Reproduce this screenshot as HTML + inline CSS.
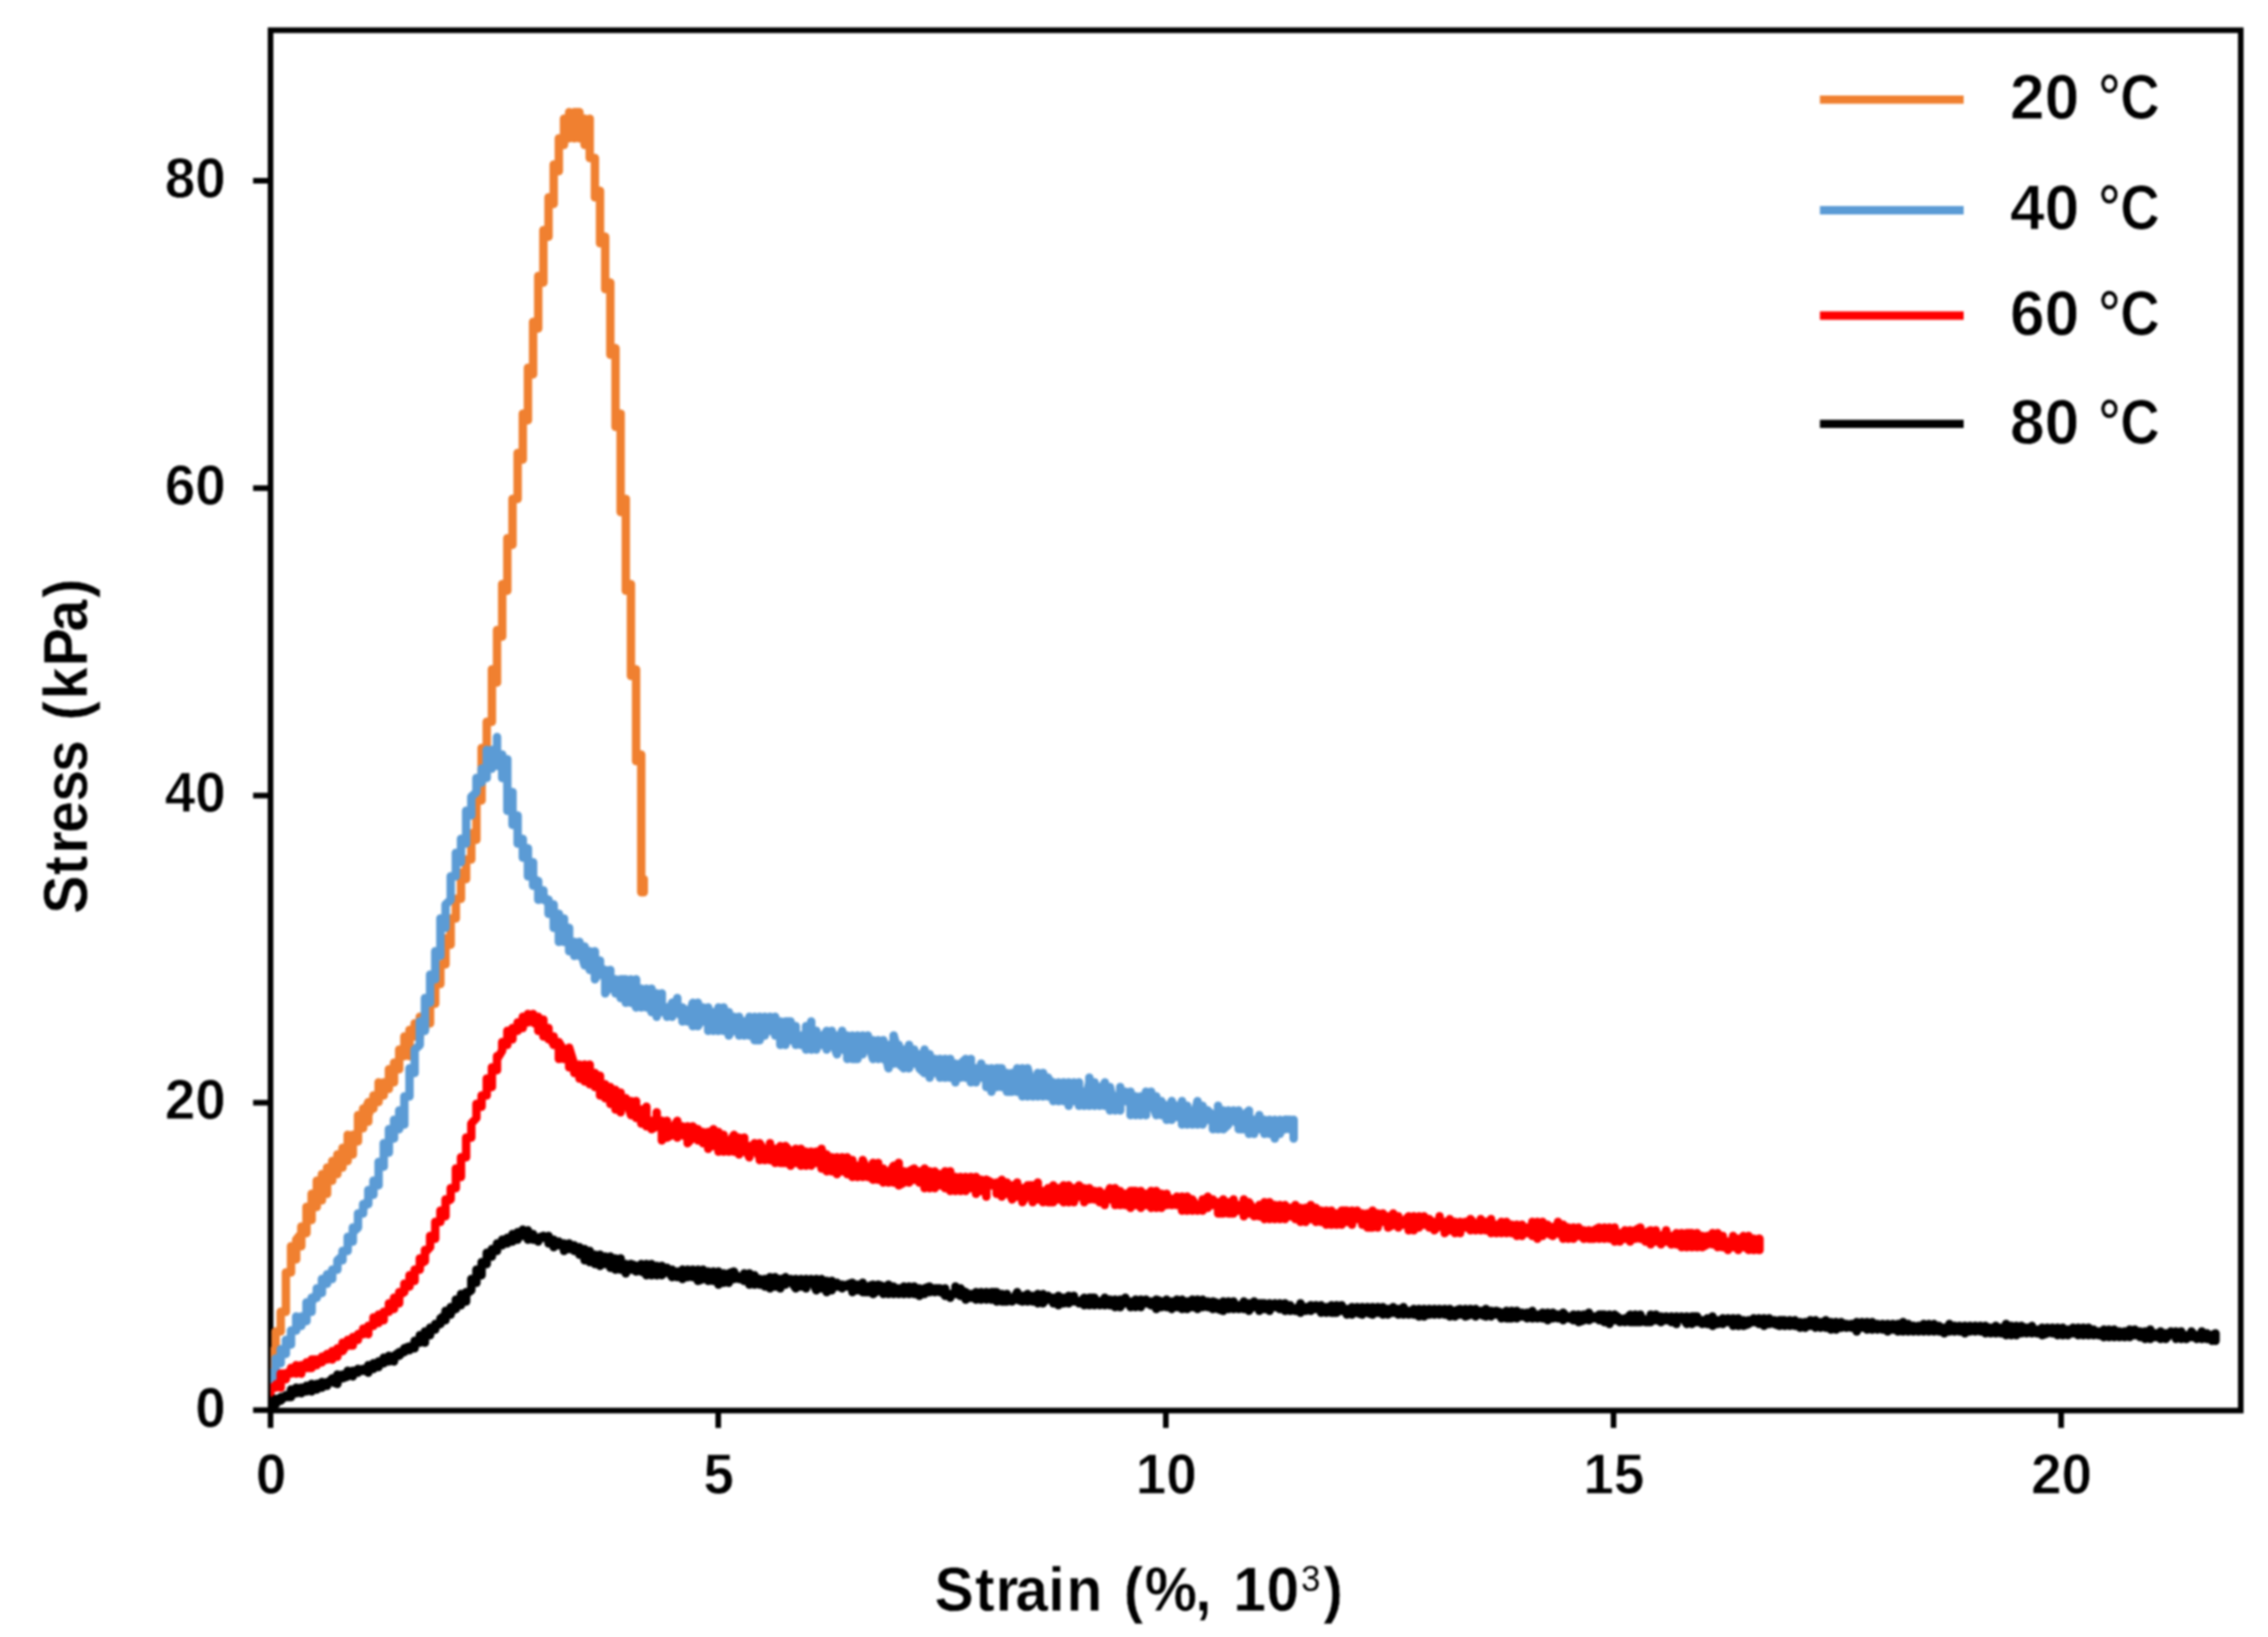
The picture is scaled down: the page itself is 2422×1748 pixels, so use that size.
<!DOCTYPE html>
<html lang="en"><head><meta charset="utf-8"><title>Stress-strain curves</title>
<style>html,body{margin:0;padding:0;background:#fff}svg{display:block}</style></head>
<body>
<svg width="2422" height="1748" viewBox="0 0 2422 1748">
<rect x="0" y="0" width="2422" height="1748" fill="#fff"/>
<filter id="soft" color-interpolation-filters="sRGB" x="0" y="0" width="100%" height="100%" filterUnits="userSpaceOnUse"><feGaussianBlur stdDeviation="0.9"/></filter>
<g filter="url(#soft)">
<rect x="0" y="0" width="2422" height="1748" fill="#fff"/>
<rect x="288.9" y="32.3" width="2104.0" height="1473.9" fill="none" stroke="#000" stroke-width="6"/>
<path d="M270.3 1505.8H288.9M270.3 1177.6H288.9M270.3 849.4H288.9M270.3 521.2H288.9M270.3 193.0H288.9M288.9 1506.2V1524.8M767.0 1506.2V1524.8M1245.0 1506.2V1524.8M1723.1 1506.2V1524.8M2201.1 1506.2V1524.8" stroke="#000" stroke-width="6" fill="none"/>
<clipPath id="plot"><rect x="288.9" y="32.3" width="2104.0" height="1476.9"/></clipPath>
<g clip-path="url(#plot)" fill="none" stroke-linejoin="round" stroke-linecap="round">
<path d="M288.8 1477.8L288.8 1484.8L288.8 1442.8L294.3 1449.8L294.3 1421.8L294.3 1421.8L299.8 1421.8L299.8 1400.8L299.8 1400.8L305.3 1400.8L305.3 1358.8L310.8 1358.8L310.8 1330.8L310.8 1330.8L316.3 1344.8L316.3 1323.8L316.3 1323.8L321.8 1316.8L321.8 1330.8L321.8 1309.8L321.8 1309.8L327.3 1316.8L327.3 1288.8L327.3 1288.8L332.8 1288.8L332.8 1302.8L332.8 1274.8L332.8 1288.8L338.3 1288.8L338.3 1260.8L338.3 1281.8L343.8 1281.8L343.8 1253.8L343.8 1253.8L349.3 1274.8L349.3 1246.8L349.3 1253.8L354.8 1253.8L354.8 1260.8L354.8 1239.8L354.8 1253.8L360.3 1239.8L360.3 1253.8L360.3 1232.8L360.3 1246.8L365.8 1246.8L365.8 1225.8L365.8 1239.8L371.3 1239.8L371.3 1211.8L376.8 1232.8L376.8 1211.8L376.8 1211.8L382.3 1211.8L382.3 1218.8L382.3 1190.8L382.3 1190.8L387.8 1197.8L387.8 1204.8L387.8 1183.8L387.8 1190.8L393.3 1176.8L393.3 1197.8L393.3 1190.8L398.8 1176.8L398.8 1169.8L398.8 1183.8L398.8 1176.8L404.3 1176.8L404.3 1155.8L404.3 1162.8L409.8 1169.8L409.8 1155.8L409.8 1162.8L415.3 1155.8L415.3 1162.8L415.3 1141.8L415.3 1141.8L420.8 1141.8L420.8 1155.8L420.8 1134.8L426.3 1134.8L426.3 1141.8L426.3 1120.8L426.3 1120.8L431.8 1127.8L431.8 1106.8L431.8 1120.8L437.3 1127.8L437.3 1099.8L437.3 1099.8L442.8 1106.8L442.8 1092.8L442.8 1106.8L448.3 1106.8L448.3 1085.8L448.3 1099.8L453.8 1099.8L453.8 1085.8L453.8 1092.8L459.3 1085.8L459.3 1092.8L459.3 1071.8L459.3 1071.8L464.8 1071.8L464.8 1050.8L464.8 1050.8L470.3 1050.8L470.3 1029.8L470.3 1029.8L475.8 1029.8L475.8 1001.8L481.3 1008.8L481.3 980.8L481.3 980.8L486.8 980.8L486.8 959.8L486.8 959.8L492.3 959.8L492.3 931.8L492.3 931.8L497.8 938.8L497.8 917.8L497.8 917.8L503.3 917.8L503.3 889.8L503.3 889.8L508.8 896.8L508.8 847.8L514.3 854.8L514.3 798.8L519.8 798.8L519.8 770.8L519.8 770.8L525.3 770.8L525.3 714.8L530.8 728.8L530.8 672.8L536.3 679.8L536.3 623.8L541.8 630.8L541.8 574.8L547.3 581.8L547.3 532.8L547.3 532.8L552.8 532.8L552.8 483.8L558.3 490.8L558.3 441.8L563.8 448.8L563.8 392.8L569.3 399.8L569.3 343.8L574.8 350.8L574.8 294.8L580.3 301.8L580.3 245.8L585.8 252.8L585.8 210.8L585.8 210.8L591.3 217.8L591.3 175.8L591.3 182.8L596.8 182.8L596.8 147.8L596.8 154.8L602.3 154.8L602.3 126.8L602.3 140.8L607.8 147.8L607.8 120.5L607.8 119.8L607.8 133.8L613.3 133.8L613.3 147.8L613.3 119.8L613.3 119.8L618.8 119.8L618.8 147.8L618.8 133.8L624.3 140.8L624.3 154.8L624.3 126.8L624.3 147.8L629.8 126.8L629.8 168.8L629.8 168.8L635.3 168.8L635.3 210.8L640.8 203.8L640.8 259.8L646.3 252.8L646.3 308.8L651.8 301.8L651.8 378.8L657.3 371.8L657.3 455.8L662.8 441.8L662.8 546.8L668.3 532.8L668.3 630.8L673.8 623.8L673.8 721.8L679.3 714.8L679.3 812.8L684.8 805.8L684.8 952.8L687.5 938.8L687.5 952.8L687.5 952.8" stroke="#F08030" stroke-width="9.0"/>
<path d="M288.8 1470.8L288.8 1480.8L288.8 1465.8L294.3 1470.8L294.3 1450.8L299.8 1450.8L299.8 1455.8L299.8 1440.8L305.3 1445.8L305.3 1430.8L305.3 1430.8L310.8 1435.8L310.8 1420.8L310.8 1420.8L316.3 1420.8L316.3 1405.8L316.3 1415.8L321.8 1410.8L321.8 1415.8L321.8 1405.8L321.8 1405.8L327.3 1410.8L327.3 1390.8L332.8 1395.8L332.8 1400.8L332.8 1385.8L332.8 1390.8L338.3 1380.8L338.3 1385.8L338.3 1375.8L338.3 1375.8L343.8 1380.8L343.8 1365.8L343.8 1365.8L349.3 1365.8L349.3 1370.8L349.3 1360.8L349.3 1365.8L354.8 1365.8L354.8 1355.8L354.8 1355.8L360.3 1355.8L360.3 1345.8L360.3 1345.8L365.8 1340.8L365.8 1345.8L365.8 1335.8L365.8 1335.8L371.3 1335.8L371.3 1320.8L371.3 1320.8L376.8 1320.8L376.8 1325.8L376.8 1310.8L376.8 1315.8L382.3 1310.8L382.3 1295.8L382.3 1295.8L387.8 1295.8L387.8 1285.8L387.8 1290.8L393.3 1280.8L393.3 1285.8L393.3 1270.8L398.8 1270.8L398.8 1275.8L398.8 1260.8L398.8 1260.8L404.3 1265.8L404.3 1240.8L409.8 1245.8L409.8 1220.8L415.3 1225.8L415.3 1230.8L415.3 1205.8L415.3 1210.8L420.8 1215.8L420.8 1195.8L426.3 1205.8L426.3 1185.8L431.8 1200.8L431.8 1170.8L437.3 1170.8L437.3 1140.8L442.8 1145.8L442.8 1120.8L448.3 1115.8L448.3 1090.8L453.8 1100.8L453.8 1065.8L459.3 1070.8L459.3 1040.8L459.3 1040.8L464.8 1045.8L464.8 1015.8L470.3 1020.8L470.3 980.8L475.8 990.8L475.8 965.8L481.3 960.8L481.3 935.8L486.8 935.8L486.8 910.8L492.3 920.8L492.3 895.8L492.3 895.8L497.8 900.8L497.8 865.8L503.3 870.8L503.3 850.8L503.3 850.8L508.8 845.8L508.8 830.8L508.8 830.8L514.3 835.8L514.3 820.8L514.3 825.8L519.8 830.8L519.8 800.8L519.8 820.8L525.3 805.8L525.3 800.8L525.3 820.8L525.3 815.8L530.8 805.8L530.8 787.0L530.8 815.8L530.8 800.8L530.8 815.8L536.3 820.8L536.3 805.8L536.3 830.8L541.8 810.8L541.8 865.8L547.3 845.8L547.3 880.8L552.8 870.8L552.8 900.8L558.3 895.8L558.3 915.8L558.3 910.8L563.8 905.8L563.8 935.8L563.8 935.8L569.3 930.8L569.3 920.8L569.3 945.8L569.3 935.8L574.8 945.8L574.8 940.8L574.8 960.8L574.8 960.8L580.3 955.8L580.3 960.8L580.3 950.8L580.3 955.8L585.8 965.8L585.8 960.8L585.8 975.8L591.3 965.8L591.3 990.8L596.8 975.8L596.8 1005.8L602.3 980.8L602.3 1005.8L602.3 995.8L607.8 990.8L607.8 1015.8L607.8 1015.8L613.3 1010.8L613.3 1005.8L613.3 1020.8L613.3 1005.8L618.8 1015.8L618.8 1005.8L618.8 1020.8L618.8 1010.8L624.3 1030.8L624.3 1010.8L624.3 1010.8L629.8 1035.8L629.8 1015.8L629.8 1020.8L635.3 1015.8L635.3 1045.8L640.8 1035.8L640.8 1040.8L640.8 1025.8L640.8 1030.8L646.3 1045.8L646.3 1035.8L646.3 1060.8L651.8 1050.8L651.8 1035.8L651.8 1055.8L651.8 1050.8L657.3 1055.8L657.3 1060.8L657.3 1045.8L657.3 1055.8L662.8 1060.8L662.8 1065.8L662.8 1045.8L668.3 1045.8L668.3 1070.8L668.3 1070.8L673.8 1045.8L673.8 1070.8L673.8 1055.8L679.3 1075.8L679.3 1045.8L679.3 1070.8L684.8 1070.8L684.8 1075.8L684.8 1055.8L684.8 1065.8L690.3 1055.8L690.3 1075.8L690.3 1060.8L695.8 1080.8L695.8 1055.8L695.8 1080.8L701.3 1075.8L701.3 1060.8L701.3 1085.8L701.3 1065.8L706.8 1070.8L706.8 1060.8L706.8 1080.8L706.8 1075.8L712.3 1075.8L712.3 1085.8L712.3 1085.8L717.8 1070.8L717.8 1085.8L717.8 1070.8L723.3 1070.8L723.3 1065.8L723.3 1080.8L723.3 1080.8L728.8 1085.8L728.8 1090.8L728.8 1075.8L734.3 1080.8L734.3 1090.8L734.3 1090.8L739.8 1070.8L739.8 1095.8L739.8 1085.8L745.3 1085.8L745.3 1070.8L745.3 1095.8L745.3 1095.8L750.8 1085.8L750.8 1075.8L750.8 1090.8L756.3 1090.8L756.3 1100.8L756.3 1075.8L756.3 1095.8L761.8 1095.8L761.8 1100.8L761.8 1080.8L761.8 1095.8L767.3 1100.8L767.3 1075.8L767.3 1100.8L772.8 1090.8L772.8 1075.8L772.8 1100.8L778.3 1080.8L778.3 1105.8L778.3 1105.8L783.8 1095.8L783.8 1100.8L783.8 1085.8L789.3 1100.8L789.3 1105.8L789.3 1085.8L789.3 1105.8L794.8 1090.8L794.8 1105.8L794.8 1090.8L800.3 1090.8L800.3 1085.8L800.3 1105.8L805.8 1085.8L805.8 1110.8L805.8 1110.8L811.3 1110.8L811.3 1085.8L811.3 1100.8L816.8 1095.8L816.8 1105.8L816.8 1085.8L822.3 1095.8L822.3 1100.8L822.3 1085.8L822.3 1100.8L827.8 1095.8L827.8 1085.8L827.8 1105.8L833.3 1105.8L833.3 1090.8L833.3 1115.8L833.3 1110.8L838.8 1095.8L838.8 1115.8L838.8 1090.8L838.8 1090.8L844.3 1090.8L844.3 1110.8L844.3 1110.8L849.8 1110.8L849.8 1095.8L849.8 1115.8L849.8 1105.8L855.3 1115.8L855.3 1105.8L855.3 1115.8L860.8 1105.8L860.8 1095.8L860.8 1120.8L860.8 1115.8L866.3 1105.8L866.3 1120.8L866.3 1090.8L866.3 1120.8L871.8 1115.8L871.8 1100.8L871.8 1120.8L871.8 1115.8L877.3 1105.8L877.3 1115.8L877.3 1110.8L882.8 1100.8L882.8 1120.8L882.8 1105.8L888.3 1110.8L888.3 1100.8L888.3 1115.8L888.3 1110.8L893.8 1125.8L893.8 1105.8L893.8 1110.8L899.3 1105.8L899.3 1100.8L899.3 1120.8L899.3 1110.8L904.8 1125.8L904.8 1105.8L904.8 1130.8L910.3 1105.8L910.3 1130.8L915.8 1130.8L915.8 1105.8L915.8 1105.8L921.3 1110.8L921.3 1125.8L921.3 1105.8L921.3 1110.8L926.8 1120.8L926.8 1105.8L926.8 1110.8L932.3 1130.8L932.3 1110.8L932.3 1120.8L937.8 1130.8L937.8 1110.8L937.8 1110.8L943.3 1130.8L943.3 1110.8L943.3 1115.8L948.8 1140.8L948.8 1115.8L954.3 1135.8L954.3 1105.8L959.8 1125.8L959.8 1115.8L959.8 1135.8L959.8 1135.8L965.3 1140.8L965.3 1120.8L965.3 1135.8L970.8 1140.8L970.8 1115.8L970.8 1120.8L976.3 1135.8L976.3 1120.8L976.3 1135.8L981.8 1135.8L981.8 1125.8L981.8 1140.8L987.3 1145.8L987.3 1120.8L987.3 1125.8L992.8 1130.8L992.8 1125.8L992.8 1150.8L992.8 1130.8L998.3 1135.8L998.3 1130.8L998.3 1145.8L1003.8 1135.8L1003.8 1130.8L1003.8 1150.8L1009.3 1140.8L1009.3 1130.8L1009.3 1150.8L1009.3 1135.8L1014.8 1140.8L1014.8 1130.8L1014.8 1150.8L1014.8 1140.8L1020.3 1135.8L1020.3 1155.8L1020.3 1140.8L1025.8 1135.8L1025.8 1150.8L1025.8 1135.8L1031.3 1130.8L1031.3 1150.8L1031.3 1145.8L1036.8 1130.8L1036.8 1155.8L1036.8 1140.8L1042.3 1140.8L1042.3 1155.8L1042.3 1150.8L1047.8 1150.8L1047.8 1135.8L1047.8 1145.8L1053.3 1150.8L1053.3 1140.8L1053.3 1160.8L1053.3 1145.8L1058.8 1160.8L1058.8 1140.8L1058.8 1165.8L1058.8 1160.8L1064.3 1140.8L1064.3 1160.8L1064.3 1140.8L1069.8 1140.8L1069.8 1160.8L1069.8 1150.8L1075.3 1145.8L1075.3 1165.8L1080.8 1165.8L1080.8 1145.8L1086.3 1165.8L1086.3 1140.8L1091.8 1150.8L1091.8 1170.8L1091.8 1140.8L1097.3 1145.8L1097.3 1170.8L1097.3 1140.8L1102.8 1160.8L1102.8 1150.8L1102.8 1170.8L1108.3 1165.8L1108.3 1170.8L1108.3 1145.8L1108.3 1155.8L1113.8 1160.8L1113.8 1170.8L1113.8 1145.8L1119.3 1165.8L1119.3 1170.8L1119.3 1150.8L1124.8 1160.8L1124.8 1155.8L1124.8 1175.8L1124.8 1175.8L1130.3 1155.8L1130.3 1175.8L1135.8 1170.8L1135.8 1155.8L1135.8 1175.8L1135.8 1155.8L1141.3 1175.8L1141.3 1155.8L1141.3 1180.8L1141.3 1175.8L1146.8 1155.8L1146.8 1175.8L1152.3 1170.8L1152.3 1155.8L1152.3 1180.8L1152.3 1165.8L1157.8 1165.8L1157.8 1180.8L1157.8 1180.8L1163.3 1155.8L1163.3 1180.8L1163.3 1150.8L1163.3 1170.8L1168.8 1180.8L1168.8 1155.8L1174.3 1175.8L1174.3 1160.8L1174.3 1180.8L1174.3 1175.8L1179.8 1155.8L1179.8 1180.8L1179.8 1175.8L1185.3 1175.8L1185.3 1185.8L1185.3 1160.8L1190.8 1185.8L1190.8 1170.8L1190.8 1180.8L1196.3 1165.8L1196.3 1185.8L1196.3 1160.8L1196.3 1170.8L1201.8 1175.8L1201.8 1165.8L1201.8 1165.8L1207.3 1180.8L1207.3 1165.8L1207.3 1190.8L1207.3 1170.8L1212.8 1170.8L1212.8 1190.8L1212.8 1185.8L1218.3 1190.8L1218.3 1170.8L1218.3 1175.8L1223.8 1190.8L1223.8 1165.8L1229.3 1180.8L1229.3 1165.8L1229.3 1175.8L1234.8 1190.8L1234.8 1170.8L1234.8 1190.8L1240.3 1180.8L1240.3 1190.8L1240.3 1175.8L1240.3 1175.8L1245.8 1185.8L1245.8 1195.8L1245.8 1180.8L1245.8 1190.8L1251.3 1175.8L1251.3 1195.8L1251.3 1175.8L1256.8 1190.8L1256.8 1180.8L1256.8 1190.8L1262.3 1195.8L1262.3 1175.8L1262.3 1200.8L1262.3 1190.8L1267.8 1195.8L1267.8 1200.8L1267.8 1180.8L1267.8 1190.8L1273.3 1190.8L1273.3 1185.8L1273.3 1200.8L1278.8 1175.8L1278.8 1200.8L1278.8 1185.8L1284.3 1180.8L1284.3 1200.8L1289.8 1185.8L1289.8 1195.8L1289.8 1185.8L1295.3 1190.8L1295.3 1205.8L1295.3 1190.8L1300.8 1195.8L1300.8 1180.8L1300.8 1205.8L1300.8 1185.8L1306.3 1190.8L1306.3 1185.8L1306.3 1205.8L1306.3 1205.8L1311.8 1200.8L1311.8 1185.8L1311.8 1190.8L1317.3 1195.8L1317.3 1185.8L1317.3 1195.8L1322.8 1200.8L1322.8 1185.8L1322.8 1205.8L1328.3 1205.8L1328.3 1190.8L1328.3 1190.8L1333.8 1185.8L1333.8 1210.8L1333.8 1195.8L1339.3 1195.8L1339.3 1210.8L1339.3 1195.8L1344.8 1195.8L1344.8 1205.8L1344.8 1190.8L1344.8 1200.8L1350.3 1195.8L1350.3 1210.8L1350.3 1195.8L1355.8 1200.8L1355.8 1210.8L1355.8 1195.8L1355.8 1205.8L1361.3 1195.8L1361.3 1215.8L1366.8 1195.8L1366.8 1210.8L1366.8 1210.8L1372.3 1195.8L1372.3 1205.8L1372.3 1195.8L1377.8 1195.8L1377.8 1205.8L1377.8 1200.8L1381.5 1210.8L1381.5 1215.8L1381.5 1195.8L1381.5 1195.8" stroke="#5B9BD5" stroke-width="9.0"/>
<path d="M288.8 1484.8L288.8 1490.8L288.8 1481.8L294.3 1481.8L294.3 1478.8L294.3 1478.8L299.8 1475.8L299.8 1481.8L299.8 1466.8L305.3 1466.8L305.3 1472.8L305.3 1466.8L310.8 1463.8L310.8 1466.8L310.8 1460.8L310.8 1463.8L316.3 1460.8L316.3 1466.8L316.3 1457.8L321.8 1466.8L321.8 1457.8L321.8 1457.8L327.3 1460.8L327.3 1454.8L327.3 1460.8L332.8 1460.8L332.8 1451.8L332.8 1451.8L338.3 1451.8L338.3 1457.8L338.3 1451.8L343.8 1454.8L343.8 1448.8L343.8 1451.8L349.3 1445.8L349.3 1451.8L349.3 1448.8L354.8 1448.8L354.8 1451.8L354.8 1442.8L354.8 1442.8L360.3 1448.8L360.3 1439.8L360.3 1439.8L365.8 1442.8L365.8 1433.8L365.8 1442.8L371.3 1433.8L371.3 1436.8L371.3 1430.8L371.3 1436.8L376.8 1436.8L376.8 1427.8L376.8 1427.8L382.3 1427.8L382.3 1424.8L382.3 1430.8L382.3 1424.8L387.8 1421.8L387.8 1418.8L387.8 1424.8L387.8 1418.8L393.3 1424.8L393.3 1415.8L393.3 1415.8L398.8 1415.8L398.8 1406.8L404.3 1412.8L404.3 1403.8L409.8 1403.8L409.8 1409.8L409.8 1400.8L415.3 1400.8L415.3 1391.8L415.3 1394.8L420.8 1397.8L420.8 1385.8L420.8 1385.8L426.3 1391.8L426.3 1379.8L426.3 1382.8L431.8 1379.8L431.8 1370.8L437.3 1373.8L437.3 1361.8L442.8 1361.8L442.8 1367.8L442.8 1355.8L442.8 1358.8L448.3 1352.8L448.3 1355.8L448.3 1343.8L448.3 1349.8L453.8 1346.8L453.8 1334.8L453.8 1337.8L459.3 1331.8L459.3 1319.8L459.3 1322.8L464.8 1322.8L464.8 1304.8L470.3 1304.8L470.3 1292.8L475.8 1298.8L475.8 1280.8L475.8 1283.8L481.3 1280.8L481.3 1268.8L481.3 1268.8L486.8 1268.8L486.8 1247.8L492.3 1256.8L492.3 1235.8L497.8 1235.8L497.8 1214.8L503.3 1214.8L503.3 1199.8L503.3 1199.8L508.8 1193.8L508.8 1178.8L514.3 1178.8L514.3 1181.8L514.3 1169.8L519.8 1169.8L519.8 1151.8L519.8 1157.8L525.3 1160.8L525.3 1139.8L530.8 1142.8L530.8 1127.8L530.8 1130.8L536.3 1121.8L536.3 1112.8L536.3 1115.8L541.8 1112.8L541.8 1115.8L541.8 1100.8L541.8 1100.8L547.3 1109.8L547.3 1097.8L547.3 1097.8L552.8 1100.8L552.8 1091.8L552.8 1091.8L558.3 1094.8L558.3 1097.8L558.3 1085.8L558.3 1091.8L563.8 1085.8L563.8 1082.8L563.8 1091.8L563.8 1085.8L569.3 1085.8L569.3 1084.0L569.3 1082.8L569.3 1091.8L569.3 1091.8L574.8 1094.8L574.8 1085.8L574.8 1100.8L574.8 1094.8L580.3 1094.8L580.3 1088.8L580.3 1106.8L580.3 1097.8L585.8 1106.8L585.8 1097.8L585.8 1109.8L585.8 1103.8L591.3 1115.8L591.3 1106.8L591.3 1112.8L596.8 1115.8L596.8 1112.8L596.8 1130.8L596.8 1112.8L602.3 1121.8L602.3 1130.8L602.3 1127.8L607.8 1130.8L607.8 1139.8L607.8 1118.8L613.3 1136.8L613.3 1145.8L613.3 1139.8L618.8 1136.8L618.8 1151.8L618.8 1151.8L624.3 1151.8L624.3 1136.8L624.3 1154.8L624.3 1139.8L629.8 1136.8L629.8 1157.8L629.8 1148.8L635.3 1154.8L635.3 1160.8L635.3 1145.8L640.8 1151.8L640.8 1148.8L640.8 1169.8L640.8 1160.8L646.3 1157.8L646.3 1172.8L646.3 1166.8L651.8 1160.8L651.8 1178.8L651.8 1169.8L657.3 1163.8L657.3 1184.8L657.3 1172.8L662.8 1181.8L662.8 1187.8L662.8 1166.8L662.8 1175.8L668.3 1175.8L668.3 1172.8L668.3 1181.8L668.3 1172.8L673.8 1190.8L673.8 1175.8L679.3 1181.8L679.3 1175.8L679.3 1193.8L679.3 1181.8L684.8 1196.8L684.8 1184.8L684.8 1199.8L684.8 1196.8L690.3 1184.8L690.3 1181.8L690.3 1202.8L695.8 1196.8L695.8 1205.8L701.3 1202.8L701.3 1187.8L701.3 1202.8L706.8 1202.8L706.8 1196.8L706.8 1217.8L706.8 1208.8L712.3 1196.8L712.3 1214.8L717.8 1211.8L717.8 1202.8L717.8 1205.8L723.3 1196.8L723.3 1214.8L723.3 1202.8L728.8 1202.8L728.8 1211.8L734.3 1214.8L734.3 1202.8L734.3 1220.8L734.3 1220.8L739.8 1214.8L739.8 1202.8L739.8 1202.8L745.3 1208.8L745.3 1205.8L745.3 1217.8L745.3 1211.8L750.8 1208.8L750.8 1220.8L750.8 1220.8L756.3 1217.8L756.3 1226.8L756.3 1208.8L756.3 1220.8L761.8 1205.8L761.8 1223.8L761.8 1214.8L767.3 1226.8L767.3 1208.8L767.3 1229.8L767.3 1220.8L772.8 1211.8L772.8 1229.8L778.3 1217.8L778.3 1229.8L778.3 1220.8L783.8 1211.8L783.8 1229.8L783.8 1226.8L789.3 1214.8L789.3 1232.8L789.3 1229.8L794.8 1217.8L794.8 1229.8L794.8 1214.8L794.8 1223.8L800.3 1235.8L800.3 1223.8L800.3 1226.8L805.8 1226.8L805.8 1229.8L805.8 1220.8L805.8 1226.8L811.3 1235.8L811.3 1238.8L811.3 1220.8L816.8 1229.8L816.8 1226.8L816.8 1238.8L816.8 1232.8L822.3 1229.8L822.3 1220.8L822.3 1238.8L822.3 1226.8L827.8 1226.8L827.8 1241.8L827.8 1235.8L833.3 1223.8L833.3 1241.8L833.3 1241.8L838.8 1241.8L838.8 1223.8L844.3 1229.8L844.3 1244.8L844.3 1229.8L849.8 1229.8L849.8 1241.8L849.8 1226.8L849.8 1238.8L855.3 1229.8L855.3 1244.8L855.3 1226.8L855.3 1232.8L860.8 1229.8L860.8 1244.8L860.8 1238.8L866.3 1244.8L866.3 1229.8L866.3 1229.8L871.8 1241.8L871.8 1229.8L871.8 1229.8L877.3 1235.8L877.3 1247.8L877.3 1226.8L882.8 1250.8L882.8 1232.8L882.8 1235.8L888.3 1250.8L888.3 1235.8L888.3 1238.8L893.8 1241.8L893.8 1235.8L893.8 1253.8L893.8 1250.8L899.3 1247.8L899.3 1250.8L899.3 1235.8L899.3 1238.8L904.8 1235.8L904.8 1253.8L904.8 1247.8L910.3 1247.8L910.3 1238.8L910.3 1256.8L910.3 1241.8L915.8 1256.8L915.8 1244.8L915.8 1256.8L921.3 1253.8L921.3 1238.8L921.3 1256.8L921.3 1238.8L926.8 1250.8L926.8 1256.8L926.8 1253.8L932.3 1259.8L932.3 1241.8L932.3 1256.8L937.8 1241.8L937.8 1259.8L937.8 1256.8L943.3 1247.8L943.3 1262.8L943.3 1262.8L948.8 1256.8L948.8 1250.8L948.8 1262.8L948.8 1253.8L954.3 1244.8L954.3 1262.8L954.3 1253.8L959.8 1253.8L959.8 1241.8L959.8 1265.8L965.3 1262.8L965.3 1250.8L965.3 1253.8L970.8 1256.8L970.8 1262.8L970.8 1250.8L970.8 1250.8L976.3 1247.8L976.3 1259.8L976.3 1250.8L981.8 1250.8L981.8 1262.8L981.8 1262.8L987.3 1247.8L987.3 1268.8L987.3 1250.8L992.8 1268.8L992.8 1250.8L992.8 1259.8L998.3 1250.8L998.3 1268.8L998.3 1259.8L1003.8 1262.8L1003.8 1265.8L1003.8 1253.8L1003.8 1259.8L1009.3 1268.8L1009.3 1250.8L1009.3 1268.8L1014.8 1253.8L1014.8 1250.8L1014.8 1271.8L1020.3 1256.8L1020.3 1271.8L1020.3 1259.8L1025.8 1256.8L1025.8 1271.8L1025.8 1265.8L1031.3 1265.8L1031.3 1271.8L1031.3 1256.8L1031.3 1256.8L1036.8 1268.8L1036.8 1256.8L1036.8 1259.8L1042.3 1262.8L1042.3 1256.8L1042.3 1274.8L1042.3 1268.8L1047.8 1271.8L1047.8 1259.8L1047.8 1271.8L1053.3 1259.8L1053.3 1277.8L1053.3 1259.8L1058.8 1262.8L1058.8 1265.8L1064.3 1262.8L1064.3 1274.8L1064.3 1268.8L1069.8 1259.8L1069.8 1277.8L1069.8 1262.8L1075.3 1265.8L1075.3 1262.8L1075.3 1274.8L1075.3 1265.8L1080.8 1280.8L1080.8 1265.8L1080.8 1268.8L1086.3 1277.8L1086.3 1262.8L1086.3 1265.8L1091.8 1271.8L1091.8 1268.8L1091.8 1283.8L1097.3 1274.8L1097.3 1265.8L1097.3 1265.8L1102.8 1265.8L1102.8 1283.8L1108.3 1271.8L1108.3 1280.8L1108.3 1262.8L1108.3 1280.8L1113.8 1274.8L1113.8 1271.8L1113.8 1283.8L1113.8 1280.8L1119.3 1271.8L1119.3 1268.8L1119.3 1283.8L1124.8 1283.8L1124.8 1265.8L1124.8 1277.8L1130.3 1277.8L1130.3 1280.8L1130.3 1268.8L1130.3 1274.8L1135.8 1283.8L1135.8 1265.8L1135.8 1271.8L1141.3 1283.8L1141.3 1265.8L1146.8 1280.8L1146.8 1268.8L1146.8 1283.8L1152.3 1265.8L1152.3 1277.8L1157.8 1268.8L1157.8 1283.8L1157.8 1280.8L1163.3 1280.8L1163.3 1268.8L1163.3 1274.8L1168.8 1277.8L1168.8 1280.8L1168.8 1271.8L1168.8 1280.8L1174.3 1277.8L1174.3 1283.8L1174.3 1271.8L1174.3 1271.8L1179.8 1280.8L1179.8 1286.8L1179.8 1274.8L1179.8 1280.8L1185.3 1268.8L1185.3 1280.8L1185.3 1277.8L1190.8 1283.8L1190.8 1286.8L1190.8 1268.8L1190.8 1271.8L1196.3 1283.8L1196.3 1286.8L1196.3 1271.8L1201.8 1283.8L1201.8 1286.8L1201.8 1274.8L1201.8 1277.8L1207.3 1283.8L1207.3 1289.8L1207.3 1271.8L1212.8 1271.8L1212.8 1286.8L1212.8 1277.8L1218.3 1274.8L1218.3 1289.8L1218.3 1271.8L1218.3 1271.8L1223.8 1286.8L1223.8 1274.8L1229.3 1289.8L1229.3 1271.8L1229.3 1286.8L1234.8 1286.8L1234.8 1271.8L1234.8 1289.8L1240.3 1277.8L1240.3 1289.8L1240.3 1274.8L1240.3 1289.8L1245.8 1274.8L1245.8 1286.8L1245.8 1277.8L1251.3 1280.8L1251.3 1286.8L1251.3 1283.8L1256.8 1283.8L1256.8 1277.8L1256.8 1286.8L1256.8 1286.8L1262.3 1280.8L1262.3 1292.8L1262.3 1277.8L1262.3 1289.8L1267.8 1292.8L1267.8 1277.8L1267.8 1277.8L1273.3 1283.8L1273.3 1292.8L1273.3 1280.8L1278.8 1289.8L1278.8 1286.8L1278.8 1292.8L1278.8 1289.8L1284.3 1283.8L1284.3 1280.8L1284.3 1292.8L1284.3 1286.8L1289.8 1277.8L1289.8 1289.8L1289.8 1286.8L1295.3 1286.8L1295.3 1280.8L1295.3 1280.8L1300.8 1289.8L1300.8 1283.8L1300.8 1295.8L1306.3 1295.8L1306.3 1280.8L1306.3 1295.8L1311.8 1292.8L1311.8 1283.8L1311.8 1295.8L1311.8 1295.8L1317.3 1295.8L1317.3 1280.8L1317.3 1286.8L1322.8 1289.8L1322.8 1286.8L1322.8 1292.8L1328.3 1289.8L1328.3 1280.8L1328.3 1298.8L1328.3 1283.8L1333.8 1286.8L1333.8 1295.8L1333.8 1283.8L1339.3 1292.8L1339.3 1298.8L1339.3 1298.8L1344.8 1286.8L1344.8 1298.8L1344.8 1286.8L1350.3 1301.8L1350.3 1283.8L1350.3 1292.8L1355.8 1286.8L1355.8 1301.8L1355.8 1283.8L1355.8 1298.8L1361.3 1295.8L1361.3 1286.8L1361.3 1301.8L1361.3 1292.8L1366.8 1295.8L1366.8 1286.8L1366.8 1301.8L1366.8 1292.8L1372.3 1286.8L1372.3 1301.8L1372.3 1289.8L1377.8 1289.8L1377.8 1298.8L1377.8 1292.8L1383.3 1292.8L1383.3 1286.8L1383.3 1301.8L1388.8 1289.8L1388.8 1304.8L1388.8 1295.8L1394.3 1304.8L1394.3 1289.8L1394.3 1298.8L1399.8 1301.8L1399.8 1286.8L1399.8 1301.8L1405.3 1289.8L1405.3 1304.8L1405.3 1292.8L1410.8 1295.8L1410.8 1292.8L1410.8 1304.8L1410.8 1292.8L1416.3 1301.8L1416.3 1292.8L1416.3 1307.8L1421.8 1298.8L1421.8 1292.8L1421.8 1307.8L1421.8 1301.8L1427.3 1295.8L1427.3 1307.8L1427.3 1301.8L1432.8 1301.8L1432.8 1307.8L1432.8 1292.8L1438.3 1292.8L1438.3 1304.8L1438.3 1295.8L1443.8 1304.8L1443.8 1307.8L1443.8 1292.8L1449.3 1298.8L1449.3 1301.8L1449.3 1292.8L1449.3 1298.8L1454.8 1304.8L1454.8 1307.8L1454.8 1295.8L1454.8 1298.8L1460.3 1298.8L1460.3 1295.8L1460.3 1310.8L1460.3 1310.8L1465.8 1310.8L1465.8 1292.8L1465.8 1304.8L1471.3 1304.8L1471.3 1310.8L1471.3 1295.8L1471.3 1301.8L1476.8 1301.8L1476.8 1304.8L1476.8 1295.8L1476.8 1301.8L1482.3 1298.8L1482.3 1310.8L1482.3 1310.8L1487.8 1307.8L1487.8 1295.8L1487.8 1301.8L1493.3 1307.8L1493.3 1310.8L1493.3 1298.8L1493.3 1304.8L1498.8 1307.8L1498.8 1304.8L1498.8 1304.8L1504.3 1298.8L1504.3 1313.8L1504.3 1310.8L1509.8 1310.8L1509.8 1313.8L1509.8 1298.8L1509.8 1313.8L1515.3 1298.8L1515.3 1310.8L1515.3 1301.8L1520.8 1298.8L1520.8 1307.8L1520.8 1301.8L1526.3 1301.8L1526.3 1310.8L1526.3 1301.8L1531.8 1307.8L1531.8 1304.8L1531.8 1313.8L1537.3 1307.8L1537.3 1298.8L1537.3 1304.8L1542.8 1313.8L1542.8 1304.8L1542.8 1316.8L1548.3 1310.8L1548.3 1313.8L1548.3 1301.8L1548.3 1301.8L1553.8 1313.8L1553.8 1304.8L1553.8 1316.8L1559.3 1307.8L1559.3 1316.8L1559.3 1304.8L1564.8 1307.8L1564.8 1304.8L1564.8 1310.8L1564.8 1307.8L1570.3 1304.8L1570.3 1313.8L1570.3 1301.8L1575.8 1307.8L1575.8 1313.8L1575.8 1310.8L1581.3 1304.8L1581.3 1313.8L1581.3 1301.8L1586.8 1310.8L1586.8 1304.8L1586.8 1313.8L1586.8 1313.8L1592.3 1307.8L1592.3 1301.8L1592.3 1316.8L1592.3 1307.8L1597.8 1316.8L1597.8 1307.8L1597.8 1316.8L1603.3 1307.8L1603.3 1304.8L1603.3 1316.8L1603.3 1310.8L1608.8 1313.8L1608.8 1316.8L1608.8 1304.8L1608.8 1307.8L1614.3 1316.8L1614.3 1307.8L1619.8 1316.8L1619.8 1319.8L1619.8 1307.8L1619.8 1316.8L1625.3 1313.8L1625.3 1319.8L1625.3 1307.8L1625.3 1316.8L1630.8 1316.8L1630.8 1310.8L1636.3 1310.8L1636.3 1304.8L1636.3 1319.8L1636.3 1316.8L1641.8 1310.8L1641.8 1322.8L1641.8 1304.8L1641.8 1313.8L1647.3 1307.8L1647.3 1304.8L1647.3 1319.8L1652.8 1307.8L1652.8 1316.8L1652.8 1316.8L1658.3 1319.8L1658.3 1310.8L1658.3 1310.8L1663.8 1307.8L1663.8 1304.8L1663.8 1316.8L1669.3 1319.8L1669.3 1322.8L1669.3 1307.8L1674.8 1313.8L1674.8 1322.8L1674.8 1310.8L1674.8 1313.8L1680.3 1313.8L1680.3 1310.8L1680.3 1322.8L1685.8 1313.8L1685.8 1310.8L1685.8 1319.8L1685.8 1313.8L1691.3 1322.8L1691.3 1313.8L1691.3 1319.8L1696.8 1322.8L1696.8 1313.8L1696.8 1322.8L1702.3 1322.8L1702.3 1313.8L1702.3 1313.8L1707.8 1310.8L1707.8 1322.8L1707.8 1316.8L1713.3 1310.8L1713.3 1322.8L1713.3 1313.8L1718.8 1310.8L1718.8 1322.8L1724.3 1313.8L1724.3 1310.8L1724.3 1325.8L1724.3 1319.8L1729.8 1322.8L1729.8 1316.8L1729.8 1325.8L1729.8 1322.8L1735.3 1322.8L1735.3 1313.8L1735.3 1313.8L1740.8 1319.8L1740.8 1325.8L1740.8 1313.8L1740.8 1322.8L1746.3 1313.8L1746.3 1322.8L1746.3 1313.8L1751.8 1310.8L1751.8 1322.8L1751.8 1316.8L1757.3 1325.8L1757.3 1316.8L1757.3 1316.8L1762.8 1313.8L1762.8 1328.8L1762.8 1316.8L1768.3 1325.8L1768.3 1313.8L1768.3 1325.8L1773.8 1325.8L1773.8 1328.8L1773.8 1319.8L1779.3 1316.8L1779.3 1325.8L1779.3 1313.8L1779.3 1319.8L1784.8 1328.8L1784.8 1319.8L1784.8 1319.8L1790.3 1328.8L1790.3 1316.8L1790.3 1316.8L1795.8 1325.8L1795.8 1331.8L1795.8 1316.8L1795.8 1316.8L1801.3 1331.8L1801.3 1316.8L1801.3 1316.8L1806.8 1316.8L1806.8 1331.8L1806.8 1319.8L1812.3 1319.8L1812.3 1331.8L1812.3 1316.8L1812.3 1319.8L1817.8 1331.8L1817.8 1319.8L1817.8 1331.8L1823.3 1328.8L1823.3 1319.8L1823.3 1325.8L1828.8 1328.8L1828.8 1316.8L1828.8 1328.8L1834.3 1322.8L1834.3 1316.8L1834.3 1331.8L1839.8 1322.8L1839.8 1331.8L1839.8 1319.8L1839.8 1325.8L1845.3 1325.8L1845.3 1334.8L1845.3 1328.8L1850.8 1328.8L1850.8 1319.8L1850.8 1331.8L1850.8 1319.8L1856.3 1331.8L1856.3 1334.8L1856.3 1322.8L1856.3 1331.8L1861.8 1319.8L1861.8 1331.8L1861.8 1328.8L1867.3 1334.8L1867.3 1319.8L1867.3 1331.8L1872.8 1328.8L1872.8 1322.8L1872.8 1334.8L1878.3 1331.8L1878.3 1334.8L1878.3 1322.8L1878.3 1328.8L1879.0 1334.8L1879.0 1322.8L1879.0 1325.8" stroke="#FF0000" stroke-width="9.0"/>
<path d="M288.8 1495.8L288.8 1497.8L288.8 1497.8L294.3 1499.8L294.3 1493.8L294.3 1499.8L299.8 1491.8L299.8 1495.8L299.8 1495.8L305.3 1489.8L305.3 1491.8L305.3 1491.8L310.8 1491.8L310.8 1483.8L310.8 1483.8L316.3 1487.8L316.3 1481.8L321.8 1483.8L321.8 1487.8L321.8 1481.8L321.8 1485.8L327.3 1483.8L327.3 1485.8L327.3 1479.8L327.3 1483.8L332.8 1485.8L332.8 1477.8L332.8 1481.8L338.3 1477.8L338.3 1483.8L338.3 1479.8L343.8 1475.8L343.8 1481.8L343.8 1475.8L349.3 1479.8L349.3 1475.8L349.3 1477.8L354.8 1471.8L354.8 1475.8L354.8 1475.8L360.3 1477.8L360.3 1467.8L360.3 1473.8L365.8 1469.8L365.8 1467.8L365.8 1471.8L365.8 1471.8L371.3 1469.8L371.3 1463.8L376.8 1469.8L376.8 1463.8L382.3 1465.8L382.3 1461.8L382.3 1461.8L387.8 1463.8L387.8 1461.8L387.8 1463.8L393.3 1459.8L393.3 1465.8L393.3 1457.8L393.3 1459.8L398.8 1461.8L398.8 1455.8L404.3 1455.8L404.3 1453.8L404.3 1459.8L404.3 1457.8L409.8 1451.8L409.8 1455.8L409.8 1449.8L409.8 1453.8L415.3 1453.8L415.3 1447.8L415.3 1451.8L420.8 1453.8L420.8 1447.8L420.8 1447.8L426.3 1443.8L426.3 1447.8L426.3 1447.8L431.8 1441.8L431.8 1439.8L431.8 1443.8L431.8 1439.8L437.3 1437.8L437.3 1441.8L437.3 1439.8L442.8 1439.8L442.8 1431.8L442.8 1431.8L448.3 1431.8L448.3 1433.8L448.3 1425.8L453.8 1433.8L453.8 1421.8L459.3 1423.8L459.3 1425.8L459.3 1417.8L459.3 1419.8L464.8 1419.8L464.8 1413.8L464.8 1415.8L470.3 1413.8L470.3 1407.8L475.8 1403.8L475.8 1409.8L475.8 1399.8L475.8 1401.8L481.3 1399.8L481.3 1403.8L481.3 1395.8L481.3 1399.8L486.8 1397.8L486.8 1387.8L492.3 1387.8L492.3 1393.8L492.3 1381.8L492.3 1385.8L497.8 1389.8L497.8 1379.8L497.8 1381.8L503.3 1377.8L503.3 1365.8L508.8 1369.8L508.8 1355.8L514.3 1361.8L514.3 1347.8L519.8 1349.8L519.8 1337.8L525.3 1337.8L525.3 1341.8L525.3 1333.8L525.3 1337.8L530.8 1333.8L530.8 1335.8L530.8 1327.8L536.3 1329.8L536.3 1323.8L541.8 1323.8L541.8 1321.8L541.8 1327.8L541.8 1323.8L547.3 1319.8L547.3 1325.8L547.3 1317.8L547.3 1323.8L552.8 1323.8L552.8 1315.8L558.3 1315.8L558.3 1313.0L558.3 1319.8L558.3 1317.8L563.8 1313.8L563.8 1323.8L563.8 1315.8L569.3 1319.8L569.3 1323.8L569.3 1317.8L569.3 1319.8L574.8 1323.8L574.8 1325.8L574.8 1321.8L580.3 1319.8L580.3 1321.8L580.3 1319.8L585.8 1321.8L585.8 1327.8L585.8 1319.8L585.8 1321.8L591.3 1327.8L591.3 1323.8L591.3 1331.8L591.3 1327.8L596.8 1329.8L596.8 1325.8L596.8 1325.8L602.3 1331.8L602.3 1335.8L602.3 1327.8L602.3 1327.8L607.8 1331.8L607.8 1333.8L607.8 1327.8L607.8 1331.8L613.3 1331.8L613.3 1335.8L613.3 1329.8L613.3 1329.8L618.8 1337.8L618.8 1339.8L618.8 1331.8L618.8 1333.8L624.3 1337.8L624.3 1333.8L624.3 1345.8L629.8 1343.8L629.8 1335.8L629.8 1347.8L629.8 1347.8L635.3 1339.8L635.3 1349.8L635.3 1343.8L640.8 1341.8L640.8 1339.8L640.8 1351.8L640.8 1347.8L646.3 1347.8L646.3 1349.8L646.3 1341.8L646.3 1343.8L651.8 1349.8L651.8 1341.8L651.8 1353.8L651.8 1345.8L657.3 1343.8L657.3 1355.8L657.3 1347.8L662.8 1345.8L662.8 1343.8L662.8 1355.8L668.3 1355.8L668.3 1349.8L668.3 1359.8L668.3 1351.8L673.8 1349.8L673.8 1355.8L673.8 1349.8L679.3 1351.8L679.3 1357.8L679.3 1353.8L684.8 1355.8L684.8 1357.8L684.8 1349.8L684.8 1357.8L690.3 1359.8L690.3 1349.8L690.3 1361.8L690.3 1353.8L695.8 1357.8L695.8 1361.8L695.8 1349.8L701.3 1359.8L701.3 1351.8L701.3 1361.8L701.3 1361.8L706.8 1357.8L706.8 1351.8L706.8 1361.8L712.3 1355.8L712.3 1353.8L712.3 1355.8L717.8 1363.8L717.8 1355.8L717.8 1363.8L723.3 1357.8L723.3 1363.8L723.3 1363.8L728.8 1355.8L728.8 1365.8L728.8 1355.8L734.3 1361.8L734.3 1363.8L734.3 1355.8L739.8 1357.8L739.8 1355.8L739.8 1363.8L739.8 1361.8L745.3 1355.8L745.3 1367.8L750.8 1365.8L750.8 1355.8L750.8 1363.8L756.3 1357.8L756.3 1367.8L756.3 1367.8L761.8 1365.8L761.8 1357.8L761.8 1367.8L761.8 1363.8L767.3 1365.8L767.3 1371.8L767.3 1357.8L772.8 1367.8L772.8 1369.8L772.8 1359.8L772.8 1367.8L778.3 1369.8L778.3 1359.8L783.8 1357.8L783.8 1365.8L783.8 1359.8L789.3 1363.8L789.3 1365.8L789.3 1363.8L794.8 1367.8L794.8 1359.8L794.8 1361.8L800.3 1361.8L800.3 1359.8L800.3 1371.8L800.3 1367.8L805.8 1361.8L805.8 1371.8L805.8 1367.8L811.3 1365.8L811.3 1371.8L811.3 1365.8L816.8 1367.8L816.8 1365.8L816.8 1373.8L816.8 1371.8L822.3 1373.8L822.3 1363.8L822.3 1375.8L822.3 1369.8L827.8 1369.8L827.8 1373.8L827.8 1363.8L827.8 1363.8L833.3 1373.8L833.3 1375.8L833.3 1365.8L833.3 1367.8L838.8 1363.8L838.8 1371.8L838.8 1367.8L844.3 1367.8L844.3 1365.8L844.3 1367.8L849.8 1375.8L849.8 1365.8L849.8 1371.8L855.3 1365.8L855.3 1373.8L855.3 1371.8L860.8 1369.8L860.8 1365.8L860.8 1375.8L860.8 1371.8L866.3 1367.8L866.3 1369.8L866.3 1365.8L866.3 1365.8L871.8 1377.8L871.8 1365.8L871.8 1371.8L877.3 1365.8L877.3 1375.8L877.3 1373.8L882.8 1373.8L882.8 1379.8L882.8 1367.8L882.8 1377.8L888.3 1373.8L888.3 1377.8L888.3 1367.8L888.3 1375.8L893.8 1369.8L893.8 1373.8L893.8 1369.8L899.3 1375.8L899.3 1371.8L899.3 1371.8L904.8 1373.8L904.8 1371.8L904.8 1371.8L910.3 1369.8L910.3 1379.8L910.3 1371.8L915.8 1373.8L915.8 1377.8L915.8 1371.8L915.8 1377.8L921.3 1375.8L921.3 1369.8L921.3 1379.8L926.8 1379.8L926.8 1373.8L932.3 1371.8L932.3 1381.8L937.8 1377.8L937.8 1371.8L937.8 1371.8L943.3 1373.8L943.3 1381.8L943.3 1379.8L948.8 1375.8L948.8 1381.8L948.8 1371.8L948.8 1375.8L954.3 1373.8L954.3 1381.8L954.3 1379.8L959.8 1377.8L959.8 1375.8L959.8 1381.8L959.8 1377.8L965.3 1381.8L965.3 1373.8L965.3 1381.8L970.8 1379.8L970.8 1381.8L970.8 1373.8L970.8 1373.8L976.3 1375.8L976.3 1373.8L976.3 1381.8L976.3 1381.8L981.8 1381.8L981.8 1375.8L981.8 1383.8L981.8 1381.8L987.3 1381.8L987.3 1375.8L992.8 1373.8L992.8 1379.8L998.3 1377.8L998.3 1379.8L998.3 1375.8L998.3 1375.8L1003.8 1375.8L1003.8 1379.8L1003.8 1375.8L1009.3 1383.8L1009.3 1375.8L1009.3 1381.8L1014.8 1381.8L1014.8 1385.8L1014.8 1381.8L1020.3 1381.8L1020.3 1373.8L1020.3 1379.8L1025.8 1383.8L1025.8 1375.8L1025.8 1377.8L1031.3 1379.8L1031.3 1387.8L1031.3 1383.8L1036.8 1385.8L1036.8 1381.8L1036.8 1385.8L1042.3 1383.8L1042.3 1387.8L1042.3 1379.8L1042.3 1383.8L1047.8 1387.8L1047.8 1379.8L1047.8 1381.8L1053.3 1387.8L1053.3 1379.8L1053.3 1383.8L1058.8 1387.8L1058.8 1379.8L1058.8 1379.8L1064.3 1379.8L1064.3 1389.8L1064.3 1389.8L1069.8 1385.8L1069.8 1389.8L1069.8 1381.8L1069.8 1389.8L1075.3 1389.8L1075.3 1381.8L1075.3 1387.8L1080.8 1387.8L1080.8 1385.8L1080.8 1389.8L1086.3 1379.8L1086.3 1387.8L1086.3 1387.8L1091.8 1389.8L1091.8 1383.8L1091.8 1385.8L1097.3 1381.8L1097.3 1389.8L1097.3 1383.8L1102.8 1387.8L1102.8 1389.8L1102.8 1383.8L1102.8 1383.8L1108.3 1391.8L1108.3 1381.8L1108.3 1389.8L1113.8 1381.8L1113.8 1391.8L1113.8 1391.8L1119.3 1383.8L1119.3 1387.8L1119.3 1383.8L1124.8 1389.8L1124.8 1391.8L1124.8 1385.8L1124.8 1389.8L1130.3 1389.8L1130.3 1393.8L1130.3 1383.8L1130.3 1387.8L1135.8 1387.8L1135.8 1391.8L1135.8 1385.8L1135.8 1391.8L1141.3 1389.8L1141.3 1391.8L1141.3 1383.8L1146.8 1389.8L1146.8 1383.8L1146.8 1387.8L1152.3 1389.8L1152.3 1391.8L1152.3 1391.8L1157.8 1385.8L1157.8 1393.8L1157.8 1393.8L1163.3 1391.8L1163.3 1385.8L1163.3 1393.8L1163.3 1385.8L1168.8 1385.8L1168.8 1393.8L1168.8 1387.8L1174.3 1393.8L1174.3 1389.8L1174.3 1389.8L1179.8 1387.8L1179.8 1393.8L1179.8 1385.8L1179.8 1391.8L1185.3 1389.8L1185.3 1387.8L1185.3 1393.8L1185.3 1393.8L1190.8 1391.8L1190.8 1395.8L1190.8 1387.8L1190.8 1391.8L1196.3 1395.8L1196.3 1387.8L1196.3 1395.8L1201.8 1387.8L1201.8 1391.8L1201.8 1385.8L1201.8 1391.8L1207.3 1389.8L1207.3 1395.8L1207.3 1395.8L1212.8 1393.8L1212.8 1387.8L1212.8 1395.8L1212.8 1395.8L1218.3 1389.8L1218.3 1387.8L1218.3 1395.8L1218.3 1391.8L1223.8 1391.8L1223.8 1387.8L1223.8 1389.8L1229.3 1393.8L1229.3 1389.8L1229.3 1391.8L1234.8 1389.8L1234.8 1397.8L1234.8 1387.8L1234.8 1387.8L1240.3 1389.8L1240.3 1395.8L1240.3 1391.8L1245.8 1391.8L1245.8 1395.8L1245.8 1387.8L1245.8 1387.8L1251.3 1397.8L1251.3 1389.8L1251.3 1393.8L1256.8 1395.8L1256.8 1387.8L1256.8 1393.8L1262.3 1387.8L1262.3 1397.8L1262.3 1391.8L1267.8 1391.8L1267.8 1397.8L1267.8 1389.8L1267.8 1389.8L1273.3 1389.8L1273.3 1387.8L1273.3 1395.8L1278.8 1391.8L1278.8 1387.8L1278.8 1397.8L1278.8 1397.8L1284.3 1387.8L1284.3 1395.8L1284.3 1393.8L1289.8 1393.8L1289.8 1395.8L1289.8 1389.8L1289.8 1393.8L1295.3 1397.8L1295.3 1389.8L1295.3 1389.8L1300.8 1391.8L1300.8 1397.8L1300.8 1397.8L1306.3 1399.8L1306.3 1389.8L1306.3 1395.8L1311.8 1397.8L1311.8 1389.8L1311.8 1393.8L1317.3 1391.8L1317.3 1389.8L1317.3 1397.8L1322.8 1395.8L1322.8 1397.8L1322.8 1393.8L1322.8 1393.8L1328.3 1393.8L1328.3 1389.8L1328.3 1397.8L1333.8 1395.8L1333.8 1391.8L1333.8 1399.8L1339.3 1391.8L1339.3 1395.8L1339.3 1389.8L1339.3 1391.8L1344.8 1393.8L1344.8 1391.8L1344.8 1399.8L1344.8 1391.8L1350.3 1391.8L1350.3 1397.8L1350.3 1395.8L1355.8 1393.8L1355.8 1391.8L1355.8 1399.8L1355.8 1395.8L1361.3 1391.8L1361.3 1395.8L1361.3 1393.8L1366.8 1397.8L1366.8 1391.8L1366.8 1391.8L1372.3 1395.8L1372.3 1391.8L1372.3 1399.8L1372.3 1399.8L1377.8 1395.8L1377.8 1399.8L1377.8 1393.8L1377.8 1397.8L1383.3 1397.8L1383.3 1399.8L1383.3 1397.8L1388.8 1393.8L1388.8 1391.8L1388.8 1401.8L1388.8 1393.8L1394.3 1399.8L1394.3 1395.8L1394.3 1397.8L1399.8 1393.8L1399.8 1399.8L1399.8 1393.8L1405.3 1397.8L1405.3 1393.8L1405.3 1397.8L1410.8 1393.8L1410.8 1401.8L1410.8 1397.8L1416.3 1397.8L1416.3 1395.8L1416.3 1401.8L1416.3 1399.8L1421.8 1393.8L1421.8 1401.8L1421.8 1401.8L1427.3 1401.8L1427.3 1393.8L1432.8 1395.8L1432.8 1399.8L1432.8 1393.8L1432.8 1397.8L1438.3 1397.8L1438.3 1403.8L1438.3 1397.8L1443.8 1401.8L1443.8 1403.8L1443.8 1395.8L1443.8 1395.8L1449.3 1401.8L1449.3 1395.8L1449.3 1401.8L1454.8 1403.8L1454.8 1395.8L1454.8 1399.8L1460.3 1399.8L1460.3 1395.8L1460.3 1401.8L1460.3 1401.8L1465.8 1403.8L1465.8 1395.8L1465.8 1399.8L1471.3 1395.8L1471.3 1401.8L1471.3 1395.8L1476.8 1401.8L1476.8 1403.8L1476.8 1395.8L1482.3 1401.8L1482.3 1397.8L1482.3 1403.8L1487.8 1397.8L1487.8 1401.8L1487.8 1395.8L1487.8 1399.8L1493.3 1399.8L1493.3 1403.8L1493.3 1397.8L1493.3 1403.8L1498.8 1397.8L1498.8 1403.8L1498.8 1395.8L1498.8 1401.8L1504.3 1401.8L1504.3 1403.8L1504.3 1399.8L1504.3 1401.8L1509.8 1401.8L1509.8 1397.8L1509.8 1403.8L1509.8 1397.8L1515.3 1401.8L1515.3 1405.8L1515.3 1397.8L1515.3 1397.8L1520.8 1403.8L1520.8 1405.8L1520.8 1397.8L1520.8 1401.8L1526.3 1399.8L1526.3 1397.8L1526.3 1403.8L1526.3 1403.8L1531.8 1401.8L1531.8 1403.8L1531.8 1397.8L1531.8 1399.8L1537.3 1397.8L1537.3 1403.8L1542.8 1397.8L1542.8 1403.8L1542.8 1397.8L1548.3 1399.8L1548.3 1397.8L1548.3 1405.8L1548.3 1401.8L1553.8 1403.8L1553.8 1405.8L1553.8 1399.8L1553.8 1399.8L1559.3 1397.8L1559.3 1403.8L1559.3 1403.8L1564.8 1397.8L1564.8 1405.8L1570.3 1403.8L1570.3 1397.8L1570.3 1401.8L1575.8 1397.8L1575.8 1405.8L1575.8 1399.8L1581.3 1401.8L1581.3 1399.8L1581.3 1403.8L1581.3 1403.8L1586.8 1405.8L1586.8 1397.8L1586.8 1399.8L1592.3 1405.8L1592.3 1399.8L1592.3 1399.8L1597.8 1401.8L1597.8 1399.8L1597.8 1403.8L1597.8 1399.8L1603.3 1401.8L1603.3 1407.8L1603.3 1403.8L1608.8 1401.8L1608.8 1399.8L1608.8 1407.8L1608.8 1407.8L1614.3 1407.8L1614.3 1399.8L1614.3 1405.8L1619.8 1403.8L1619.8 1407.8L1619.8 1399.8L1619.8 1401.8L1625.3 1403.8L1625.3 1401.8L1625.3 1405.8L1625.3 1401.8L1630.8 1407.8L1630.8 1401.8L1630.8 1407.8L1636.3 1399.8L1636.3 1407.8L1636.3 1407.8L1641.8 1403.8L1641.8 1407.8L1641.8 1405.8L1647.3 1405.8L1647.3 1401.8L1647.3 1407.8L1647.3 1407.8L1652.8 1403.8L1652.8 1401.8L1652.8 1409.8L1652.8 1403.8L1658.3 1403.8L1658.3 1401.8L1658.3 1407.8L1658.3 1403.8L1663.8 1403.8L1663.8 1407.8L1669.3 1405.8L1669.3 1409.8L1669.3 1401.8L1669.3 1401.8L1674.8 1407.8L1674.8 1405.8L1674.8 1405.8L1680.3 1409.8L1680.3 1403.8L1680.3 1405.8L1685.8 1403.8L1685.8 1411.8L1685.8 1411.8L1691.3 1409.8L1691.3 1403.8L1691.3 1405.8L1696.8 1403.8L1696.8 1401.8L1696.8 1409.8L1696.8 1409.8L1702.3 1405.8L1702.3 1407.8L1707.8 1407.8L1707.8 1409.8L1707.8 1403.8L1707.8 1403.8L1713.3 1403.8L1713.3 1411.8L1713.3 1407.8L1718.8 1411.8L1718.8 1403.8L1718.8 1413.8L1718.8 1411.8L1724.3 1403.8L1724.3 1409.8L1724.3 1403.8L1729.8 1407.8L1729.8 1411.8L1729.8 1411.8L1735.3 1409.8L1735.3 1411.8L1735.3 1407.8L1735.3 1411.8L1740.8 1403.8L1740.8 1411.8L1746.3 1411.8L1746.3 1403.8L1746.3 1411.8L1751.8 1411.8L1751.8 1403.8L1751.8 1405.8L1757.3 1409.8L1757.3 1411.8L1757.3 1411.8L1762.8 1411.8L1762.8 1403.8L1762.8 1411.8L1768.3 1405.8L1768.3 1409.8L1768.3 1403.8L1768.3 1407.8L1773.8 1411.8L1773.8 1405.8L1773.8 1405.8L1779.3 1407.8L1779.3 1409.8L1779.3 1405.8L1779.3 1409.8L1784.8 1405.8L1784.8 1411.8L1784.8 1411.8L1790.3 1407.8L1790.3 1413.8L1790.3 1405.8L1795.8 1407.8L1795.8 1405.8L1795.8 1405.8L1801.3 1413.8L1801.3 1405.8L1801.3 1405.8L1806.8 1413.8L1806.8 1405.8L1806.8 1405.8L1812.3 1405.8L1812.3 1411.8L1812.3 1409.8L1817.8 1409.8L1817.8 1413.8L1817.8 1411.8L1823.3 1413.8L1823.3 1407.8L1823.3 1407.8L1828.8 1415.8L1828.8 1405.8L1828.8 1415.8L1834.3 1411.8L1834.3 1409.8L1834.3 1413.8L1834.3 1411.8L1839.8 1413.8L1839.8 1407.8L1839.8 1411.8L1845.3 1411.8L1845.3 1407.8L1845.3 1409.8L1850.8 1409.8L1850.8 1415.8L1850.8 1407.8L1856.3 1409.8L1856.3 1415.8L1856.3 1407.8L1856.3 1415.8L1861.8 1411.8L1861.8 1409.8L1861.8 1415.8L1861.8 1415.8L1867.3 1413.8L1867.3 1409.8L1867.3 1411.8L1872.8 1411.8L1872.8 1407.8L1872.8 1407.8L1878.3 1413.8L1878.3 1407.8L1878.3 1411.8L1883.8 1409.8L1883.8 1415.8L1883.8 1407.8L1883.8 1409.8L1889.3 1411.8L1889.3 1407.8L1889.3 1413.8L1894.8 1409.8L1894.8 1413.8L1894.8 1413.8L1900.3 1415.8L1900.3 1409.8L1900.3 1409.8L1905.8 1409.8L1905.8 1415.8L1911.3 1411.8L1911.3 1415.8L1911.3 1409.8L1911.3 1413.8L1916.8 1409.8L1916.8 1415.8L1916.8 1413.8L1922.3 1415.8L1922.3 1417.8L1922.3 1411.8L1922.3 1415.8L1927.8 1417.8L1927.8 1411.8L1927.8 1415.8L1933.3 1411.8L1933.3 1409.8L1933.3 1415.8L1933.3 1415.8L1938.8 1409.8L1938.8 1417.8L1944.3 1411.8L1944.3 1417.8L1949.8 1411.8L1949.8 1417.8L1949.8 1409.8L1955.3 1415.8L1955.3 1411.8L1955.3 1419.8L1955.3 1413.8L1960.8 1411.8L1960.8 1419.8L1960.8 1411.8L1966.3 1415.8L1966.3 1417.8L1966.3 1411.8L1966.3 1411.8L1971.8 1415.8L1971.8 1413.8L1971.8 1417.8L1971.8 1413.8L1977.3 1415.8L1977.3 1417.8L1977.3 1413.8L1977.3 1417.8L1982.8 1415.8L1982.8 1421.8L1982.8 1411.8L1988.3 1417.8L1988.3 1411.8L1988.3 1415.8L1993.8 1415.8L1993.8 1411.8L1993.8 1419.8L1993.8 1417.8L1999.3 1419.8L1999.3 1411.8L1999.3 1413.8L2004.8 1419.8L2004.8 1413.8L2004.8 1413.8L2010.3 1419.8L2010.3 1413.8L2010.3 1415.8L2015.8 1415.8L2015.8 1413.8L2015.8 1421.8L2015.8 1419.8L2021.3 1419.8L2021.3 1413.8L2021.3 1417.8L2026.8 1413.8L2026.8 1421.8L2026.8 1415.8L2032.3 1415.8L2032.3 1411.8L2032.3 1421.8L2032.3 1419.8L2037.8 1419.8L2037.8 1413.8L2037.8 1421.8L2037.8 1417.8L2043.3 1415.8L2043.3 1421.8L2043.3 1415.8L2048.8 1417.8L2048.8 1421.8L2048.8 1415.8L2048.8 1417.8L2054.3 1415.8L2054.3 1421.8L2054.3 1413.8L2054.3 1419.8L2059.8 1413.8L2059.8 1421.8L2059.8 1419.8L2065.3 1413.8L2065.3 1421.8L2065.3 1417.8L2070.8 1415.8L2070.8 1421.8L2076.3 1417.8L2076.3 1423.8L2076.3 1417.8L2081.8 1421.8L2081.8 1413.8L2081.8 1417.8L2087.3 1421.8L2087.3 1415.8L2087.3 1417.8L2092.8 1415.8L2092.8 1421.8L2092.8 1421.8L2098.3 1419.8L2098.3 1415.8L2098.3 1423.8L2098.3 1415.8L2103.8 1419.8L2103.8 1415.8L2103.8 1421.8L2103.8 1419.8L2109.3 1415.8L2109.3 1421.8L2109.3 1415.8L2114.8 1421.8L2114.8 1415.8L2114.8 1419.8L2120.3 1417.8L2120.3 1423.8L2120.3 1415.8L2125.8 1419.8L2125.8 1423.8L2125.8 1417.8L2125.8 1423.8L2131.3 1421.8L2131.3 1415.8L2131.3 1423.8L2136.8 1421.8L2136.8 1423.8L2136.8 1417.8L2136.8 1417.8L2142.3 1421.8L2142.3 1425.8L2142.3 1413.8L2147.8 1419.8L2147.8 1425.8L2147.8 1415.8L2147.8 1423.8L2153.3 1421.8L2153.3 1425.8L2153.3 1415.8L2158.8 1423.8L2158.8 1415.8L2164.3 1419.8L2164.3 1417.8L2164.3 1423.8L2169.8 1415.8L2169.8 1423.8L2169.8 1417.8L2175.3 1423.8L2175.3 1419.8L2175.3 1423.8L2180.8 1419.8L2180.8 1417.8L2180.8 1425.8L2180.8 1425.8L2186.3 1423.8L2186.3 1417.8L2186.3 1421.8L2191.8 1419.8L2191.8 1423.8L2191.8 1417.8L2191.8 1423.8L2197.3 1421.8L2197.3 1417.8L2197.3 1425.8L2197.3 1421.8L2202.8 1417.8L2202.8 1425.8L2208.3 1423.8L2208.3 1425.8L2208.3 1419.8L2208.3 1425.8L2213.8 1419.8L2213.8 1417.8L2213.8 1423.8L2213.8 1421.8L2219.3 1419.8L2219.3 1425.8L2219.3 1417.8L2219.3 1421.8L2224.8 1421.8L2224.8 1417.8L2224.8 1425.8L2224.8 1419.8L2230.3 1421.8L2230.3 1425.8L2230.3 1417.8L2230.3 1421.8L2235.8 1423.8L2235.8 1419.8L2235.8 1425.8L2235.8 1423.8L2241.3 1425.8L2241.3 1421.8L2241.3 1423.8L2246.8 1427.8L2246.8 1419.8L2246.8 1421.8L2252.3 1419.8L2252.3 1427.8L2252.3 1421.8L2257.8 1425.8L2257.8 1427.8L2257.8 1419.8L2257.8 1419.8L2263.3 1425.8L2263.3 1421.8L2263.3 1427.8L2263.3 1425.8L2268.8 1427.8L2268.8 1421.8L2268.8 1427.8L2274.3 1425.8L2274.3 1427.8L2274.3 1419.8L2274.3 1421.8L2279.8 1423.8L2279.8 1419.8L2279.8 1425.8L2285.3 1423.8L2285.3 1427.8L2285.3 1421.8L2290.8 1423.8L2290.8 1421.8L2290.8 1429.8L2290.8 1423.8L2296.3 1423.8L2296.3 1429.8L2296.3 1419.8L2296.3 1427.8L2301.8 1427.8L2301.8 1423.8L2301.8 1425.8L2307.3 1427.8L2307.3 1429.8L2307.3 1421.8L2307.3 1425.8L2312.8 1427.8L2312.8 1429.8L2312.8 1423.8L2312.8 1429.8L2318.3 1423.8L2318.3 1421.8L2318.3 1423.8L2323.8 1421.8L2323.8 1429.8L2323.8 1429.8L2329.3 1423.8L2329.3 1429.8L2329.3 1421.8L2329.3 1425.8L2334.8 1429.8L2334.8 1425.8L2334.8 1427.8L2340.3 1423.8L2340.3 1427.8L2340.3 1421.8L2345.8 1429.8L2345.8 1425.8L2345.8 1427.8L2351.3 1423.8L2351.3 1421.8L2351.3 1429.8L2351.3 1429.8L2356.8 1427.8L2356.8 1423.8L2356.8 1429.8L2356.8 1423.8L2362.3 1427.8L2362.3 1431.8L2362.3 1425.8L2366.0 1423.8L2366.0 1431.8L2366.0 1425.8" stroke="#000000" stroke-width="9.0"/>
</g>
<g font-family="'Liberation Sans', sans-serif" font-weight="bold" fill="#000" stroke="#fff" stroke-width="1.2">
<text transform="translate(241.0 1523.5) scale(0.955 1)" font-size="61.2" text-anchor="end" stroke-width="0.8">0</text>
<text transform="translate(241.0 1195.3) scale(0.955 1)" font-size="61.2" text-anchor="end" stroke-width="0.8">20</text>
<text transform="translate(241.0 867.1) scale(0.955 1)" font-size="61.2" text-anchor="end" stroke-width="0.8">40</text>
<text transform="translate(241.0 538.9) scale(0.955 1)" font-size="61.2" text-anchor="end" stroke-width="0.8">60</text>
<text transform="translate(241.0 210.7) scale(0.955 1)" font-size="61.2" text-anchor="end" stroke-width="0.8">80</text>
<text transform="translate(289.4 1594.7) scale(0.955 1)" font-size="61.2" text-anchor="middle" stroke-width="0.8">0</text>
<text transform="translate(767.5 1594.7) scale(0.955 1)" font-size="61.2" text-anchor="middle" stroke-width="0.8">5</text>
<text transform="translate(1245.5 1594.7) scale(0.955 1)" font-size="61.2" text-anchor="middle" stroke-width="0.8">10</text>
<text transform="translate(1723.6 1594.7) scale(0.955 1)" font-size="61.2" text-anchor="middle" stroke-width="0.8">15</text>
<text transform="translate(2201.6 1594.7) scale(0.955 1)" font-size="61.2" text-anchor="middle" stroke-width="0.8">20</text>
</g>
<path d="M1943.5 106.3H2097" stroke="#F08030" stroke-width="8.8" fill="none"/>
<path d="M1943.5 224.5H2097" stroke="#5B9BD5" stroke-width="8.8" fill="none"/>
<path d="M1943.5 337.0H2097" stroke="#FF0000" stroke-width="8.8" fill="none"/>
<path d="M1943.5 452.7H2097" stroke="#000000" stroke-width="8.8" fill="none"/>
<g font-family="'Liberation Sans', sans-serif" font-weight="bold" fill="#000" stroke="#fff" stroke-width="1.2">
<text transform="translate(2146.5 127.1) scale(0.97 1)" font-size="68.5" stroke-width="0.9">20</text>
<text transform="translate(2241.0 127.1) scale(0.85 1)" font-size="68.5" stroke-width="0.9">°C</text>
<text transform="translate(2146.5 245.3) scale(0.97 1)" font-size="68.5" stroke-width="0.9">40</text>
<text transform="translate(2241.0 245.3) scale(0.85 1)" font-size="68.5" stroke-width="0.9">°C</text>
<text transform="translate(2146.5 357.8) scale(0.97 1)" font-size="68.5" stroke-width="0.9">60</text>
<text transform="translate(2241.0 357.8) scale(0.85 1)" font-size="68.5" stroke-width="0.9">°C</text>
<text transform="translate(2146.5 473.5) scale(0.97 1)" font-size="68.5" stroke-width="0.9">80</text>
<text transform="translate(2241.0 473.5) scale(0.85 1)" font-size="68.5" stroke-width="0.9">°C</text>
<text transform="translate(998 1719.8) scale(0.95 1)" font-size="66.0" stroke-width="0.5" x="0 45.5 68.7 90.7 127.8 148.3 185 212.7 236.2 293.1 310 335.8 373.1">Strain (%, 10<tspan x="412.1" dy="-21" font-size="38.8" font-weight="normal" stroke="none">3</tspan><tspan x="437.1" dy="21">)</tspan></text>
<text transform="translate(93.0 975.8) rotate(-90) scale(0.93 1)" font-size="66.0" stroke-width="0.5" x="0 44.5 69.1 92.8 128.5 162.6 195 222.2 246.3 284.1 323.9 362.7">Stress (kPa)</text>
</g>
</g>
</svg>
</body></html>
